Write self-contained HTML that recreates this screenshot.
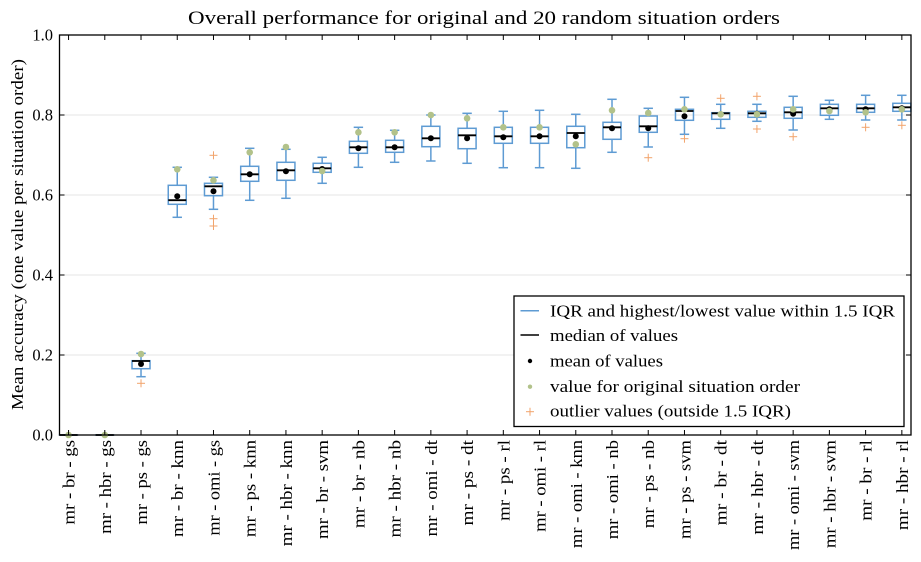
<!DOCTYPE html>
<html><head><meta charset="utf-8"><style>
html,body{margin:0;padding:0;background:#fff;}
svg{display:block;}
text{font-family:"Liberation Serif",serif;fill:#000;}
</style></head><body>
<svg width="921" height="562" viewBox="0 0 921 562" xmlns="http://www.w3.org/2000/svg">
<rect x="0" y="0" width="921" height="562" fill="#fff"/>
<!-- title -->
<text x="484" y="24" font-size="19" text-anchor="middle" textLength="592" lengthAdjust="spacingAndGlyphs">Overall performance for original and 20 random situation orders</text>
<!-- grid -->
<g stroke="#e6e6e6" stroke-width="1">
<line x1="60" y1="115" x2="911" y2="115"/>
<line x1="60" y1="195" x2="911" y2="195"/>
<line x1="60" y1="275" x2="911" y2="275"/>
<line x1="60" y1="355" x2="911" y2="355"/>
</g>
<!-- y label -->
<text transform="translate(23,234.5) rotate(-90)" font-size="16.5" text-anchor="middle" textLength="351" lengthAdjust="spacingAndGlyphs">Mean accuracy (one value per situation order)</text>
<!-- y tick labels -->
<g font-size="16.5" text-anchor="end">
<text x="53" y="440.5">0.0</text>
<text x="53" y="360.5">0.2</text>
<text x="53" y="280.5">0.4</text>
<text x="53" y="200.5">0.6</text>
<text x="53" y="120.5">0.8</text>
<text x="53" y="40.5">1.0</text>
</g>
<g id="boxes"></g>
<g id="ticks" stroke="#000" stroke-width="1"></g>
<g id="xlabels" font-size="16.5"></g>
<!-- axes frame -->
<rect x="59.5" y="35" width="851.5" height="400" fill="none" stroke="#000" stroke-width="1.3"/>
<!-- legend -->
<rect x="514" y="296" width="390" height="130.5" fill="#fff" stroke="#000" stroke-width="1.3"/>
<line x1="520.5" y1="310.7" x2="539" y2="310.7" stroke="#5e9bd3" stroke-width="1.5"/>
<line x1="520.5" y1="335" x2="539" y2="335" stroke="#000" stroke-width="1.5"/>
<circle cx="530" cy="361" r="2.2" fill="#000"/>
<circle cx="530" cy="386.7" r="2.2" fill="#b2c28a"/>
<g stroke="#f2a36b" stroke-width="1"><line x1="526" y1="411.7" x2="534" y2="411.7"/><line x1="530" y1="407.7" x2="530" y2="415.7"/></g>
<g font-size="16.5">
<text x="550" y="316.5" textLength="345" lengthAdjust="spacingAndGlyphs">IQR and highest/lowest value within 1.5 IQR</text>
<text x="550" y="340.8" textLength="128" lengthAdjust="spacingAndGlyphs">median of values</text>
<text x="550" y="366.5" textLength="113" lengthAdjust="spacingAndGlyphs">mean of values</text>
<text x="550" y="392" textLength="250" lengthAdjust="spacingAndGlyphs">value for original situation order</text>
<text x="550" y="416.7" textLength="241" lengthAdjust="spacingAndGlyphs">outlier values (outside 1.5 IQR)</text>
</g>
</svg>
<script>
(function(){
var NS="http://www.w3.org/2000/svg";
function el(tag,attrs,parent){var e=document.createElementNS(NS,tag);for(var k in attrs)e.setAttribute(k,attrs[k]);parent.appendChild(e);return e;}
// [capTop, boxTop, median, boxBottom, capBottom, mean, orig, outliers]
var data=[
[435,435,435,435,435,435,435,[]],
[435,435,435,435,435,435,435,[]],
[353.3,360.7,361,368.7,376.7,364,354,[383.3]],
[167.3,185.3,200.2,204.3,217.3,196.3,169.3,[]],
[177.3,183.3,186.3,195.7,209.3,191.3,180.3,[155.3,218.7,226]],
[148.3,166.3,174.3,181.3,200.3,174.3,152.3,[]],
[149.3,162.3,170.3,180.3,198.3,171.3,147,[]],
[157.3,163.3,168.3,172.3,183.3,169,171,[]],
[127.3,141.3,147.3,153.3,167.3,148.3,132.3,[]],
[130.3,140.3,147.3,152.3,162.3,147.3,132.3,[]],
[115,126.3,138.3,146.7,161,138.3,115,[]],
[113.3,128.3,135.3,148.7,163.3,138.3,118.3,[]],
[111.3,127.3,136.3,143.3,167.7,137.3,127.3,[]],
[110.3,127.3,136.3,143.3,167.7,136.3,127.3,[]],
[114.3,126.3,133,147.7,168.3,136.3,144.3,[]],
[99.3,122.3,127.3,139.3,152.3,128.3,110.3,[]],
[108.3,116,126.3,132.3,147,128.3,113,[157.7]],
[97.3,109.3,111,120.3,134.3,116.3,109.3,[138.7]],
[104.3,112.7,113.3,119.3,128.3,114.3,114.3,[98.3]],
[104.3,111.3,113.3,117.3,121.3,113.7,114.3,[96.3,129]],
[96.3,107.3,112.3,118.3,130,113.7,109.3,[136.7]],
[100.3,104.3,108.3,115.3,119.3,109.3,111,[]],
[95.3,104.3,108.3,112.3,120,109.3,112.3,[127.3]],
[95.3,103.3,107.3,111.3,120,108.3,109.3,[125.3]]
];
var labels=[
["mr - br - gs",5065],["mr - hbr - gs",5621],["mr - ps - gs",5067],["mr - br - knn",5811],
["mr - omi - gs",5728],["mr - ps - knn",5813],["mr - hbr - knn",6367],["mr - br - svm",5926],
["mr - br - nb",5283],["mr - hbr - nb",5839],["mr - omi - dt",5779],["mr - ps - dt",5118],
["mr - ps - rl",4843],["mr - omi - rl",5504],["mr - omi - knn",6474],["mr - omi - nb",5946],
["mr - ps - nb",5285],["mr - ps - svm",5928],["mr - br - dt",5116],["mr - hbr - dt",5672],
["mr - omi - svm",6589],["mr - hbr - svm",6482],["mr - br - rl",4841],["mr - hbr - rl",5397]
];
var boxes=document.getElementById("boxes"),ticks=document.getElementById("ticks"),xl=document.getElementById("xlabels");
var BLUE="#5e9bd3",GREEN="#b2c28a",ORANGE="#f2a36b";
for(var i=0;i<24;i++){
 var x=59.5+(i+0.25)*36.23;
 var d=data[i];
 var g=el("g",{},boxes);
 var hw=9,cw=4.7;
 // whiskers
 el("line",{x1:x,y1:d[0],x2:x,y2:d[1],stroke:BLUE,"stroke-width":1.5},g);
 el("line",{x1:x,y1:d[3],x2:x,y2:d[4],stroke:BLUE,"stroke-width":1.5},g);
 el("line",{x1:x-cw,y1:d[0],x2:x+cw,y2:d[0],stroke:BLUE,"stroke-width":1.5},g);
 el("line",{x1:x-cw,y1:d[4],x2:x+cw,y2:d[4],stroke:BLUE,"stroke-width":1.5},g);
 el("rect",{x:x-hw,y:d[1],width:2*hw,height:Math.max(d[3]-d[1],0.01),fill:"none",stroke:BLUE,"stroke-width":1.5},g);
 el("line",{x1:x-hw,y1:d[2],x2:x+hw,y2:d[2],stroke:"#000","stroke-width":1.8},g);
 for(var j=0;j<d[7].length;j++){
  var oy=d[7][j];
  el("line",{x1:x-4,y1:oy,x2:x+4,y2:oy,stroke:ORANGE,"stroke-width":1},g);
  el("line",{x1:x,y1:oy-4,x2:x,y2:oy+4,stroke:ORANGE,"stroke-width":1},g);
 }
 el("circle",{cx:x,cy:d[5],r:3,fill:"#000"},g);
 el("circle",{cx:x,cy:d[6],r:3.3,fill:GREEN},g);
 // ticks
 el("line",{x1:x,y1:435,x2:x,y2:430},ticks);
 el("line",{x1:x,y1:35,x2:x,y2:40},ticks);
 // label
 var t=el("text",{transform:"translate("+(x+6)+",440) rotate(-90)","text-anchor":"end",textLength:(labels[i][1]*16.7/1000).toFixed(1),lengthAdjust:"spacingAndGlyphs"},xl);
 t.textContent=labels[i][0];
}
var ys=[35,115,195,275,355,435];
for(var k=0;k<ys.length;k++){
 el("line",{x1:59.5,y1:ys[k],x2:64.5,y2:ys[k]},ticks);
 el("line",{x1:911,y1:ys[k],x2:906,y2:ys[k]},ticks);
}
})();
</script>
</body></html>
